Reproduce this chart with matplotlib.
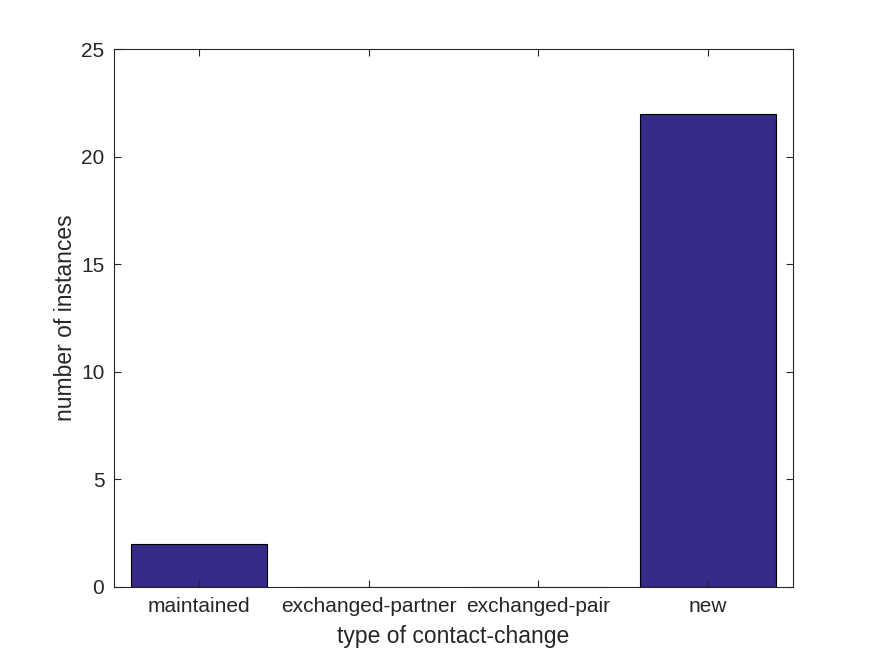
import numpy as np
import matplotlib.pyplot as plt

plt.rcParams['font.family'] = ['Liberation Sans', 'DejaVu Sans']

# 数据
categories = ['maintained', 'exchanged-partner', 'exchanged-pair', 'new']
counts = [2, 0, 0, 22]

fig = plt.figure(figsize=(8.75, 6.56), dpi=100)
ax = fig.add_axes([0.1303, 0.1052, 0.7760, 0.8201])

x = np.arange(1, len(categories) + 1)
ax.bar(x, counts, width=0.8, color='#352A87', edgecolor='black', linewidth=0.8)

ax.set_xlim(0.5, 4.5)
ax.set_ylim(0, 25)
ax.set_xticks(x)
ax.set_xticklabels(categories)
ax.set_yticks([0, 5, 10, 15, 20, 25])
ax.tick_params(direction='in', length=5, width=0.8, labelsize=15, colors='#262626',
               top=True, right=True, pad=7)
for s in ax.spines.values():
    s.set_linewidth(0.8)
    s.set_color('#262626')

ax.set_xlabel('type of contact-change', fontsize=16.5, color='#262626', labelpad=7)
ax.set_ylabel('number of instances', fontsize=16.5, color='#262626', labelpad=3)

plt.savefig('out.png', dpi=100)
